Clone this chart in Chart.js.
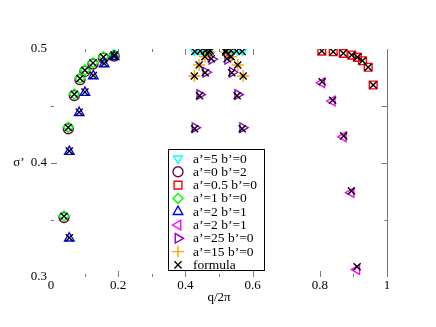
<!DOCTYPE html>
<html>
<head>
<meta charset="utf-8">
<script src="https://cdn.jsdelivr.net/npm/chart.js@4/dist/chart.umd.min.js"></script>
<style>
  body { margin: 0; background: #fff; }
  #wrap { width: 436px; height: 327px; position: relative; }
</style>
</head>
<body>
<div id="wrap"><canvas id="chart"></canvas></div>
<script>
  // values (x = q/2pi, y = sigma')
  const cyanX = [0.426, 0.443, 0.458, 0.473, 0.521, 0.538, 0.554, 0.571];
  const cyanY = [0.4988, 0.499, 0.4992, 0.4993, 0.4993, 0.4992, 0.499, 0.4988];

  const greenX = [0.0387, 0.0515, 0.0693, 0.0863, 0.101, 0.125, 0.156, 0.188];
  const greenY = [0.3535, 0.4313, 0.4605, 0.4743, 0.4816, 0.488, 0.4932, 0.495];
  const circleX = [0.0387, 0.0515, 0.0693, 0.0863, 0.101, 0.125, 0.156, 0.188];
  const circleY = [0.3522, 0.4300, 0.4592, 0.4731, 0.4804, 0.4868, 0.4920, 0.4938];

  const redX = [0.806, 0.840, 0.870, 0.895, 0.912, 0.927, 0.944, 0.959];
  const redY = [0.4982, 0.4976, 0.4962, 0.4947, 0.4927, 0.4897, 0.484, 0.4684];

  const blueX = [0.0545, 0.0545, 0.084, 0.101, 0.126, 0.158, 0.188];
  const blueY = [0.334, 0.41, 0.4441, 0.4617, 0.4763, 0.4868, 0.4932];

  const magentaX = [0.806, 0.837, 0.870, 0.893, 0.910];
  const magentaY = [0.4704, 0.4544, 0.423, 0.374, 0.3065];

  const purpleX = [0.4286, 0.443, 0.461, 0.479, 0.526, 0.5396, 0.5557, 0.5705];
  const purpleY = [0.431, 0.460, 0.4796, 0.491, 0.491, 0.4796, 0.460, 0.431];

  const orangeX = [0.4265, 0.441, 0.458, 0.470, 0.520, 0.536, 0.5557, 0.572];
  const orangeY = [0.4763, 0.486, 0.4932, 0.4975, 0.4975, 0.4932, 0.486, 0.4763];

  const formulaX = [
    0.0387, 0.0515, 0.0693, 0.0863, 0.101, 0.125, 0.156, 0.188,
    0.0545, 0.0545, 0.084, 0.101, 0.126, 0.158, 0.188,
    0.428, 0.444, 0.459, 0.474, 0.520, 0.536, 0.552, 0.569,
    0.4265, 0.441, 0.458, 0.470, 0.520, 0.536, 0.5557, 0.572,
    0.4275, 0.442, 0.459, 0.477, 0.524, 0.538, 0.554, 0.569,
    0.806, 0.840, 0.870, 0.895, 0.912, 0.927, 0.944, 0.959,
    0.807, 0.838, 0.871, 0.894, 0.911,
  ];
  const formulaY = [
    0.3533, 0.4311, 0.4603, 0.4741, 0.4814, 0.4878, 0.493, 0.4948,
    0.3345, 0.4105, 0.4446, 0.4622, 0.4768, 0.4872, 0.4936,
    0.4978, 0.4982, 0.4984, 0.4985, 0.4985, 0.4984, 0.4982, 0.4978,
    0.4763, 0.486, 0.4932, 0.4975, 0.4975, 0.4932, 0.486, 0.4763,
    0.430, 0.459, 0.4792, 0.4915, 0.4915, 0.4792, 0.459, 0.430,
    0.4982, 0.4976, 0.4962, 0.4947, 0.4927, 0.4897, 0.484, 0.4684,
    0.4712, 0.455, 0.4238, 0.3755, 0.309,
  ];

  const legendLabels = [
    "a\u2019=5 b\u2019=0", "a\u2019=0 b\u2019=2", "a\u2019=0.5 b\u2019=0", "a\u2019=1 b\u2019=0",
    "a\u2019=2 b\u2019=1", "a\u2019=2 b\u2019=1", "a\u2019=25 b\u2019=0", "a\u2019=15 b\u2019=0", "formula",
  ];

  const xTicksMajor = [0.2, 0.4, 0.6, 0.8];
  const xTicksMinor = [0.1, 0.3, 0.5, 0.9];
  const xTopMajor = [0.2, 0.4, 0.6];
  const xTopMinor = [0.1, 0.3, 0.5];
  const yLeftMajor = [0.4];
  const yLeftMinor = [0.45, 0.35];
  const yRightMajor = [0.45, 0.4];
  const yRightMinor = [0.35];

  const FONT = "Liberation Serif";
  const AXIS = "#777";
  const MARK_W = 1.4;

  function pts(xs, ys) {
    return xs.map((x, i) => ({ x, y: ys[i] }));
  }

  function series(label, xs, ys, color, style, rotation, radius, order) {
    return {
      label,
      data: pts(xs, ys),
      borderColor: color,
      backgroundColor: "rgba(0,0,0,0)",
      pointStyle: style,
      rotation,
      pointRadius: radius,
      pointHoverRadius: radius,
      pointBorderWidth: MARK_W,
      order,
    };
  }

  const datasets = [
    series(legendLabels[0], cyanX, cyanY, "#00ffff", "triangle", 180, 5, 8),
    series(legendLabels[1], circleX, circleY, "#670748", "circle", 0, 5, 7),
    series(legendLabels[2], redX, redY, "#ff0000", "rect", 0, 5.5, 6),
    series(legendLabels[3], greenX, greenY, "#00ff00", "rectRot", 0, 5, 5),
    series(legendLabels[4], blueX, blueY, "#0000ff", "triangle", 0, 5.5, 4),
    series(legendLabels[5], magentaX, magentaY, "#ff00ff", "triangle", 270, 5.5, 3),
    series(legendLabels[6], purpleX, purpleY, "#9400d3", "triangle", 90, 5.5, 2),
    series(legendLabels[7], orangeX, orangeY, "#ffa500", "cross", 0, 6, 1),
    series(legendLabels[8], formulaX, formulaY, "#000000", "crossRot", 0, 5, 0),
  ];

  const decor = {
    id: "decor",
    afterDraw(chart) {
      const ctx = chart.ctx;
      const xs = chart.scales.x;
      const ys = chart.scales.y;
      const { left, right, top, bottom } = chart.chartArea;
      ctx.save();
      ctx.strokeStyle = AXIS;
      ctx.lineWidth = 1;
      const line = (x1, y1, x2, y2) => {
        ctx.beginPath();
        ctx.moveTo(x1, y1);
        ctx.lineTo(x2, y2);
        ctx.stroke();
      };
      // right axis line
      const rx = Math.round(right) + 0.5;
      line(rx, top, rx, bottom);
      xTicksMajor.forEach((v) => { const p = Math.round(xs.getPixelForValue(v)) + 0.5; line(p, bottom, p, bottom - 6); });
      xTicksMinor.forEach((v) => { const p = Math.round(xs.getPixelForValue(v)) + 0.5; line(p, bottom, p, bottom - 3); });
      xTopMajor.forEach((v) => { const p = Math.round(xs.getPixelForValue(v)) + 0.5; line(p, top, p, top + 6); });
      xTopMinor.forEach((v) => { const p = Math.round(xs.getPixelForValue(v)) + 0.5; line(p, top, p, top + 3); });
      yLeftMajor.forEach((v) => { const p = Math.round(ys.getPixelForValue(v)) + 0.5; line(left, p, left + 6, p); });
      yLeftMinor.forEach((v) => { const p = Math.round(ys.getPixelForValue(v)) + 0.5; line(left, p, left + 3, p); });
      yRightMajor.forEach((v) => { const p = Math.round(ys.getPixelForValue(v)) + 0.5; line(rx, p, rx - 6, p); });
      yRightMinor.forEach((v) => { const p = Math.round(ys.getPixelForValue(v)) + 0.5; line(rx, p, rx - 3, p); });

      // axis titles
      ctx.fillStyle = "#000";
      ctx.font = `13px "${FONT}"`;
      ctx.textBaseline = "middle";
      ctx.textAlign = "center";
      ctx.fillText("q/2\u03c0", (left + right) / 2, 298);
      ctx.fillText("\u03c3\u2019", 19, (top + bottom) / 2);

      // legend box
      const bx = 168.5, by = 149.5, bw = 96, bh = 121, rowH = 13.3;
      ctx.strokeStyle = "#000";
      ctx.fillStyle = "#fff";
      ctx.fillRect(bx, by, bw, bh);
      ctx.strokeRect(bx, by, bw, bh);
      ctx.textAlign = "left";
      ctx.font = `13.5px "${FONT}"`;
      datasets.forEach((ds, i) => {
        const cy = by + 9 + i * rowH;
        ctx.strokeStyle = ds.borderColor;
        ctx.fillStyle = "rgba(0,0,0,0)";
        ctx.lineWidth = MARK_W;
        Chart.helpers.drawPoint(ctx, {
          pointStyle: ds.pointStyle,
          rotation: ds.rotation,
          radius: ds.pointRadius,
          borderWidth: MARK_W,
        }, 178, cy);
        ctx.fillStyle = "#000";
        ctx.fillText(ds.label, 193, cy + 0.5);
      });
      ctx.restore();
    },
  };

  new Chart(document.getElementById("chart"), {
    type: "scatter",
    data: { datasets },
    plugins: [decor],
    options: {
      responsive: true,
      maintainAspectRatio: false,
      animation: false,
      layout: { padding: { left: 0, top: 49, right: 49, bottom: 0 } },
      plugins: { legend: { display: false }, tooltip: { enabled: false } },
      scales: {
        x: {
          type: "linear",
          min: 0,
          max: 1,
          afterFit: (s) => { s.height = 50; },
          grid: { display: false, drawTicks: false },
          border: { display: false },
          ticks: {
            stepSize: 0.2,
            padding: 1,
            color: "#000",
            font: { family: FONT, size: 13 },
            callback: (v) => String(Number(v.toFixed(1))),
          },
        },
        y: {
          type: "linear",
          min: 0.3,
          max: 0.5,
          afterFit: (s) => { s.width = 51; },
          grid: { display: false, drawTicks: false },
          border: { display: false },
          ticks: {
            stepSize: 0.1,
            padding: 4,
            color: "#000",
            font: { family: FONT, size: 13 },
            callback: (v) => String(Number(v.toFixed(1))),
          },
        },
      },
    },
  });
</script>
</body>
</html>
